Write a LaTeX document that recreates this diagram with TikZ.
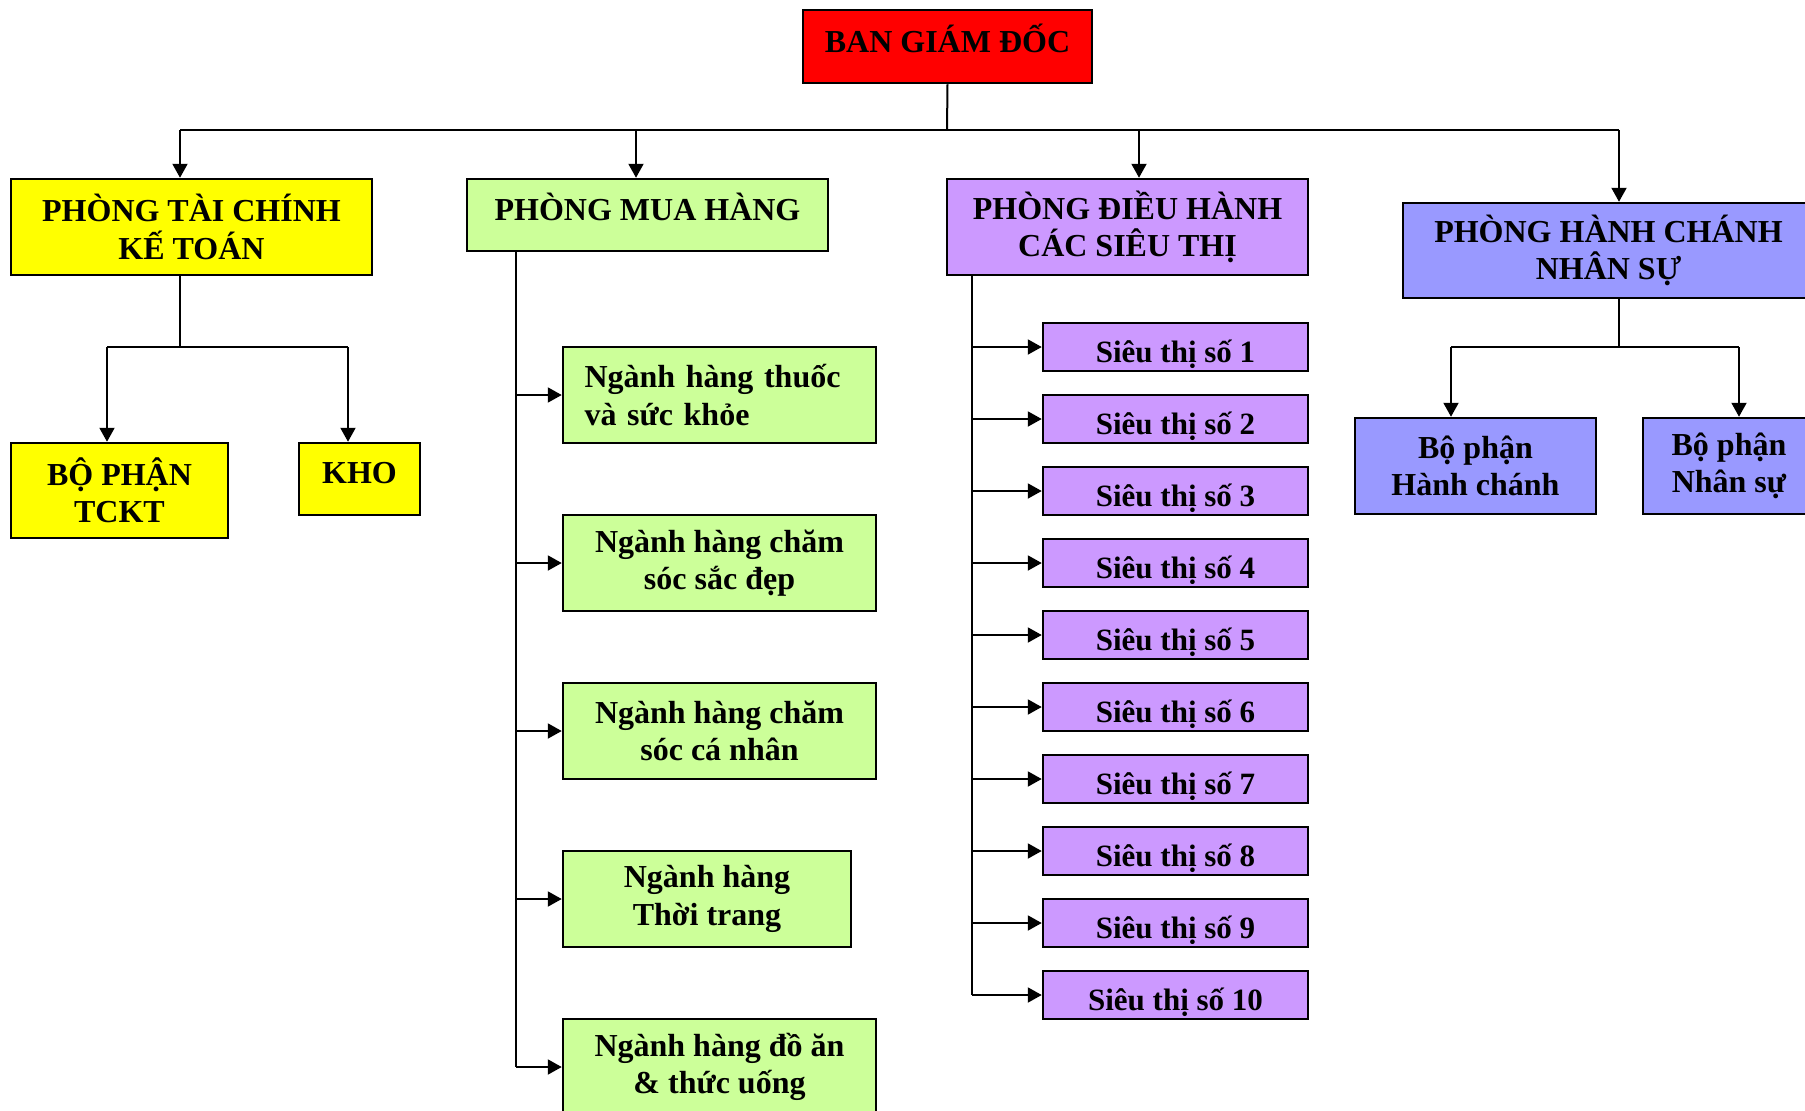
\documentclass[tikz,border=0pt]{standalone}
\usepackage{fontspec}
\setmainfont{Liberation Serif}
\usetikzlibrary{arrows.meta,positioning}

\definecolor{bgdred}{HTML}{FF0000}
\definecolor{tcyellow}{HTML}{FFFF00}
\definecolor{mhgreen}{HTML}{CCFF99}
\definecolor{dhpurple}{HTML}{CC99FF}
\definecolor{hcblue}{HTML}{9999FF}

\tikzset{
  unit/.style={draw=black, line width=2.5pt, align=center, inner sep=3pt,
    font=\bfseries\fontsize{32}{37.5}\selectfont},
  shop/.style={unit, fill=dhpurple, minimum width=265pt, minimum height=48pt,
    text height=34pt, text depth=4pt,
    font=\bfseries\fontsize{31}{36}\selectfont},
  link/.style={line width=2pt},
  arr/.style={link, -{Triangle[length=14pt,width=15pt]}}
}

\begin{document}
\begin{tikzpicture}[x=1pt,y=-1pt]
\useasboundingbox (0,0) rectangle (1805,1111);

% Top
\node[unit, fill=bgdred, minimum width=289pt, minimum height=73pt, text height=28pt, text depth=17pt] (bgd) at (947.5,46.5) {BAN GIÁM ĐỐC};
\coordinate (bus) at (947,130);
\coordinate (b1) at (180,130);
\coordinate (b2) at (636,130);
\coordinate (b3) at (1139,130);
\coordinate (b4) at (1619,130);
\draw[link] (bgd.south) -- (bus);
\draw[link] (b1) -- (b4);

% Phong tai chinh ke toan
\node[unit, fill=tcyellow, minimum width=361pt, minimum height=96pt] (tc) at (191.5,227) {PHÒNG TÀI CHÍNH\\KẾ TOÁN};
\node[unit, fill=tcyellow, minimum width=217pt, minimum height=95pt] (tckt) at (119.5,490.5) {BỘ PHẬN\\TCKT};
\node[unit, fill=tcyellow, minimum width=121pt, minimum height=72pt, text height=28pt, text depth=20pt] (kho) at (359.5,479) {KHO};
\draw[arr] (b1) -- (b1 |- tc.north);
\coordinate (tcfork) at (180,347);
\coordinate (tcl) at (107,347);
\coordinate (tcr) at (348,347);
\draw[link] (tc.south -| tcfork) -- (tcfork);
\draw[link] (tcl) -- (tcr);
\draw[arr] (tcl) -- (tcl |- tckt.north);
\draw[arr] (tcr) -- (tcr |- kho.north);

% Phong mua hang
\node[unit, fill=mhgreen, minimum width=361pt, minimum height=72pt, text height=28pt, text depth=18pt] (mh) at (647.5,215) {PHÒNG MUA HÀNG};
\node[unit, fill=mhgreen, minimum width=313pt, minimum height=96pt, align=left, inner xsep=21.5pt, text width=270pt] (mh1) at (719.5,395) {Ngành hàng thuốc\\và sức khỏe};
\node[unit, fill=mhgreen, minimum width=313pt, minimum height=96pt] (mh2) at (719.5,563) {Ngành hàng chăm\\sóc sắc đẹp};
\node[unit, fill=mhgreen, minimum width=313pt, minimum height=96pt] (mh3) at (719.5,731) {Ngành hàng chăm\\sóc cá nhân};
\node[unit, fill=mhgreen, minimum width=288pt, minimum height=96pt] (mh4) at (707,899) {Ngành hàng\\Thời trang};
\node[unit, fill=mhgreen, minimum width=313pt, minimum height=96pt] (mh5) at (719.5,1067) {Ngành hàng đồ ăn\\\& thức uống};
\draw[arr] (b2) -- (b2 |- mh.north);
\coordinate (mhbus) at (516,0);
\draw[link] (mh.south -| mhbus) -- (mh5.west -| mhbus);
\foreach \i in {1,...,5}
    \draw[arr] (mh\i.west -| mhbus) -- (mh\i.west);

% Phong dieu hanh cac sieu thi
\node[unit, fill=dhpurple, minimum width=361pt, minimum height=96pt] (dh) at (1127.5,227) {PHÒNG ĐIỀU HÀNH\\CÁC SIÊU THỊ};
\draw[arr] (b3) -- (b3 |- dh.north);
\foreach \i in {1,...,10}
    \node[shop] (st\i) at (1175.5,{347+72*(\i-1)}) {Siêu thị số \i};
\coordinate (dhbus) at (972,0);
\draw[link] (dh.south -| dhbus) -- (st10.west -| dhbus);
\foreach \i in {1,...,10}
    \draw[arr] (st\i.west -| dhbus) -- (st\i.west);

% Phong hanh chanh nhan su
\node[unit, fill=hcblue, minimum width=411pt, minimum height=95pt] (hc) at (1608.5,250.5) {PHÒNG HÀNH CHÁNH\\NHÂN SỰ};
\node[unit, fill=hcblue, minimum width=241pt, minimum height=96pt] (bphc) at (1475.5,466) {Bộ phận\\Hành chánh};
\node[unit, fill=hcblue, minimum width=172pt, minimum height=96pt] (bpns) at (1729,466) {Bộ phận\\Nhân sự};
\draw[arr] (b4) -- (b4 |- hc.north);
\coordinate (hcfork) at (1619,347);
\coordinate (hcl) at (1451,347);
\coordinate (hcr) at (1739,347);
\draw[link] (hc.south -| hcfork) -- (hcfork);
\draw[link] (hcl) -- (hcr);
\draw[arr] (hcl) -- (hcl |- bphc.north);
\draw[arr] (hcr) -- (hcr |- bpns.north);

\end{tikzpicture}
\end{document}
